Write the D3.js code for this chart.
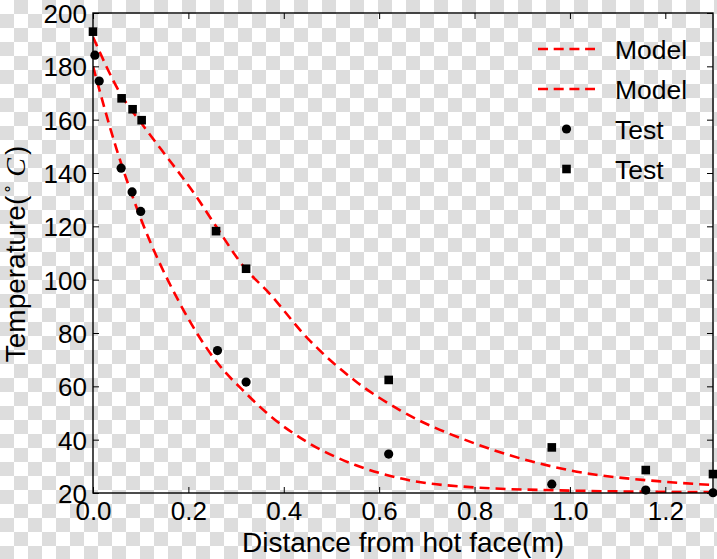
<!DOCTYPE html>
<html>
<head>
<meta charset="utf-8">
<script src="https://cdn.jsdelivr.net/npm/d3@7"></script>
<style>
  html, body { margin: 0; padding: 0; background: #fff; }
  svg { display: block; }
  text { font-family: "Liberation Sans", Arial, sans-serif; fill: #000; }
</style>
</head>
<body>
<svg id="chart" width="717" height="559"></svg>
<script>
// ---------- data ----------
const xTicks = [0.0, 0.2, 0.4, 0.6, 0.8, 1.0, 1.2];
const xTickLabels = ["0.0", "0.2", "0.4", "0.6", "0.8", "1.0", "1.2"];
const yTicks = [20, 40, 60, 80, 100, 120, 140, 160, 180, 200];
const yTickLabels = ["20", "40", "60", "80", "100", "120", "140", "160", "180", "200"];

// Model curves
const modelLowX = [0, 0.05, 0.1, 0.1824, 0.26, 0.32, 0.371, 0.45, 0.55, 0.644, 0.8, 1.0, 1.15, 1.3];
const modelLowY = [180, 148.6, 123, 91, 69, 57.5, 49, 39, 30.5, 25.5, 22.1, 20.9, 20.5, 20.3];
const modelHighX = [0, 0.06, 0.1, 0.144, 0.2174, 0.258, 0.32, 0.364, 0.45, 0.55, 0.644, 0.8, 1.0, 1.2, 1.3];
const modelHighY = [191, 169, 159, 148.6, 131, 120, 104, 96, 78, 62, 51, 38.6, 28.5, 24.2, 23];

// Test data
const testCircleX = [0.004, 0.013, 0.059, 0.082, 0.1, 0.261, 0.321, 0.62, 0.962, 1.159, 1.3];
const testCircleY = [184.2, 174.5, 141.8, 132.9, 125.6, 73.4, 61.6, 34.6, 23.3, 21.1, 20.1];
const testSquareX = [0.0, 0.06, 0.083, 0.102, 0.258, 0.321, 0.62, 0.962, 1.159, 1.3];
const testSquareY = [193, 168, 163.9, 159.8, 118.2, 104.1, 62.4, 37.1, 28.6, 27.1];

const legendLabels = ["Model", "Model", "Test", "Test"];

// ---------- layout ----------
const W = 717, H = 559;
const pL = 93, pR = 713, pT = 13, pB = 493;
const svg = d3.select("#chart");

// checkerboard background
const cell = 14;
const defs = svg.append("defs");
const pat = defs.append("pattern").attr("id", "checker")
  .attr("width", cell * 2).attr("height", cell * 2)
  .attr("patternUnits", "userSpaceOnUse");
pat.append("rect").attr("width", cell * 2).attr("height", cell * 2).attr("fill", "#ffffff");
pat.append("rect").attr("x", cell).attr("y", 0).attr("width", cell).attr("height", cell).attr("fill", "#dddddd");
pat.append("rect").attr("x", 0).attr("y", cell).attr("width", cell).attr("height", cell).attr("fill", "#dddddd");
svg.append("rect").attr("width", W).attr("height", H).attr("fill", "url(#checker)");

const x = d3.scaleLinear().domain([0, 1.3]).range([pL, pR]);
const y = d3.scaleLinear().domain([20, 200]).range([pB, pT]);

defs.append("clipPath").attr("id", "plotclip").append("rect")
  .attr("x", pL).attr("y", pT).attr("width", pR - pL).attr("height", pB - pT);

// ---------- model lines ----------
const line = d3.line().x(d => x(d[0])).y(d => y(d[1])).curve(d3.curveMonotoneX);
const lowData = modelLowX.map((v, i) => [v, modelLowY[i]]);
const highData = modelHighX.map((v, i) => [v, modelHighY[i]]);
const gLines = svg.append("g").attr("clip-path", "url(#plotclip)");
[lowData, highData].forEach(dd => {
  gLines.append("path").datum(dd).attr("d", line)
    .attr("fill", "none").attr("stroke", "#ff0000")
    .attr("stroke-width", 2.6).attr("stroke-dasharray", "10,6");
});

// ---------- axes frame & ticks ----------
const tickLen = 6;
const frame = svg.append("g");
const axB = d3.axisBottom(x).tickValues(xTicks).tickSize(-tickLen).tickFormat((d, i) => xTickLabels[i]).tickPadding(8.5);
const axT = d3.axisTop(x).tickValues(xTicks).tickSize(-tickLen).tickFormat("");
const axL = d3.axisLeft(y).tickValues(yTicks).tickSize(-tickLen).tickFormat((d, i) => yTickLabels[i]).tickPadding(6);
const axR = d3.axisRight(y).tickValues(yTicks).tickSize(-tickLen).tickFormat("");

function styleAxis(g) {
  g.select(".domain").remove();
  g.selectAll(".tick line").attr("stroke", "#000").attr("stroke-width", 1);
  g.selectAll(".tick text").attr("font-size", 26).attr("fill", "#000")
    .style("font-family", '"Liberation Sans", Arial, sans-serif');
}
frame.append("g").attr("transform", `translate(0,${pB})`).call(axB).call(styleAxis)
  .selectAll(".tick text").attr("dy", "0.72em");
frame.append("g").attr("transform", `translate(0,${pT})`).call(axT).call(styleAxis);
frame.append("g").attr("transform", `translate(${pL},0)`).call(axL).call(styleAxis)
  .selectAll(".tick text").attr("dy", "0.36em");
frame.append("g").attr("transform", `translate(${pR},0)`).call(axR).call(styleAxis);

frame.append("rect").attr("x", pL).attr("y", pT)
  .attr("width", pR - pL).attr("height", pB - pT)
  .attr("fill", "none").attr("stroke", "#000").attr("stroke-width", 1.4);

// ---------- test markers ----------
const gPts = svg.append("g");
gPts.selectAll("circle.t").data(testCircleX.map((v, i) => [v, testCircleY[i]])).enter()
  .append("circle").attr("cx", d => x(d[0])).attr("cy", d => y(d[1])).attr("r", 4.6).attr("fill", "#000");
const sq = 8.6;
gPts.selectAll("rect.t").data(testSquareX.map((v, i) => [v, testSquareY[i]])).enter()
  .append("rect").attr("x", d => x(d[0]) - sq / 2).attr("y", d => y(d[1]) - sq / 2)
  .attr("width", sq).attr("height", sq).attr("fill", "#000");

// ---------- axis labels ----------
svg.append("text").attr("x", (pL + pR) / 2).attr("y", 552)
  .attr("text-anchor", "middle").attr("font-size", 28).text("Distance from hot face(m)");

const yl = svg.append("text").attr("transform", "translate(25,254) rotate(-90)")
  .attr("text-anchor", "middle").attr("font-size", 28);
yl.append("tspan").text("Temperature(");
yl.append("tspan").attr("font-size", 16).attr("dy", -12).attr("dx", 2).text("\u2218");
yl.append("tspan").attr("dy", 12).attr("dx", 7)
  .style("font-family", '"Liberation Serif", "DejaVu Serif", serif').attr("font-style", "italic").text("C");
yl.append("tspan").attr("dx", 3).text(")");

// ---------- legend ----------
const lg = svg.append("g");
const legY = [49, 89, 129, 169];
[0, 1].forEach(i => {
  lg.append("line").attr("x1", 538).attr("x2", 595).attr("y1", legY[i]).attr("y2", legY[i])
    .attr("stroke", "#ff0000").attr("stroke-width", 2.6).attr("stroke-dasharray", "10,5.7");
});
lg.append("circle").attr("cx", 566.5).attr("cy", legY[2]).attr("r", 4.6).attr("fill", "#000");
lg.append("rect").attr("x", 566.5 - sq / 2).attr("y", legY[3] - sq / 2).attr("width", sq).attr("height", sq).attr("fill", "#000");
legendLabels.forEach((t, i) => {
  lg.append("text").attr("x", 615).attr("y", legY[i] + 10).attr("font-size", 26.5).text(t);
});
</script>
</body>
</html>
